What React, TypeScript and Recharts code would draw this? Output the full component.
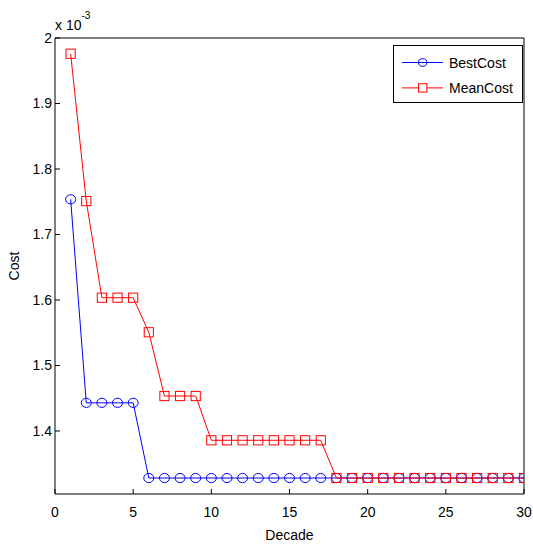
import React from "react"
import { LineChart, Line, XAxis, YAxis, Legend } from "recharts"

// decade index
const decades = [1, 2, 3, 4, 5, 6, 7, 8, 9, 10, 11, 12, 13, 14, 15, 16, 17, 18, 19, 20, 21, 22, 23, 24, 25, 26, 27, 28, 29, 30]

// cost values in units of 10^-3
const bestCost = [
  1.7537, 1.443, 1.443, 1.443, 1.443, 1.3282, 1.3282, 1.3282, 1.3282, 1.3282,
  1.3282, 1.3282, 1.3282, 1.3282, 1.3282, 1.3282, 1.3282, 1.3282, 1.3282, 1.3282,
  1.3282, 1.3282, 1.3282, 1.3282, 1.3282, 1.3282, 1.3282, 1.3282, 1.3282, 1.3282,
]
const meanCost = [
  1.976, 1.751, 1.6035, 1.6035, 1.6035, 1.5507, 1.4534, 1.4534, 1.4534, 1.3858,
  1.3858, 1.3858, 1.3858, 1.3858, 1.3858, 1.3858, 1.3858, 1.3282, 1.3282, 1.3282,
  1.3282, 1.3282, 1.3282, 1.3282, 1.3282, 1.3282, 1.3282, 1.3282, 1.3282, 1.3282,
]

const xTicks = [0, 5, 10, 15, 20, 25, 30]
const yTicks = [1.4, 1.5, 1.6, 1.7, 1.8, 1.9, 2]
const xDomain = [0, 30]
const yDomain = [1.3038, 2.0]

const data = decades.map((d, i) => ({ decade: d, best: bestCost[i], mean: meanCost[i] }))

const FONT = "'Liberation Sans', Arial, sans-serif"
const BLUE = "#0000ff"
const RED = "#ff0000"
const X_MARGIN = 13
const Y_MARGIN = 3
const TICK = 5
// mirrored box axes need a non-zero size to be drawn
const THIN = 0.01

const Circle = ({ cx, cy, stroke, size = 5 }: any) => (
  <ellipse cx={cx} cy={cy} rx={size} ry={size - 0.4} fill="none" stroke={stroke} strokeWidth={1} />
)

const Square = ({ cx, cy, stroke }: any) => (
  <rect x={cx - 4.6} y={cy - 4.6} width={9.2} height={9.2} fill="none" stroke={stroke} strokeWidth={1} />
)

const BottomTick = ({ x, y, payload }: any) => (
  <g>
    <line x1={x} x2={x} y1={y - X_MARGIN} y2={y - X_MARGIN - TICK} stroke="#000" />
    <text x={x} y={y + 10} textAnchor="middle" fontSize={14} fontFamily={FONT} fill="#000">
      {payload.value}
    </text>
  </g>
)

const LeftTick = ({ x, y, payload }: any) => (
  <g>
    <line x1={x + Y_MARGIN} x2={x + Y_MARGIN + TICK} y1={y} y2={y} stroke="#000" />
    <text x={x} y={y} dy="0.355em" textAnchor="end" fontSize={14} fontFamily={FONT} fill="#000">
      {payload.value}
    </text>
  </g>
)

const series = [
  { name: "BestCost", color: BLUE, shape: "circle" },
  { name: "MeanCost", color: RED, shape: "square" },
]

const LegendBox = () => (
  <svg width={130} height={58} style={{ display: "block" }}>
    <rect x={0.5} y={0.5} width={129} height={57} fill="#fff" stroke="#000" />
    {series.map((s, i) => {
      const yc = 17.5 + i * 25.4
      return (
        <g key={s.name}>
          <line x1={9} x2={50} y1={yc} y2={yc} stroke={s.color} />
          {s.shape === "circle" ? (
            <Circle cx={29.7} cy={yc} stroke={s.color} size={4.2} />
          ) : (
            <rect x={25.5} y={yc - 4.2} width={8.4} height={8.4} fill="#fff" stroke={s.color} />
          )}
          <text x={56} y={yc + 5} fontSize={14} fontFamily={FONT} fill="#000">
            {s.name}
          </text>
        </g>
      )
    })}
  </svg>
)

export default function App() {
  return (
    <div style={{ position: "absolute", left: 0, top: 0, background: "#fff" }}>
      <LineChart
        width={533}
        height={544}
        data={data}
        margin={{ top: 38, right: 9, bottom: 0, left: 0 }}
        style={{ fontFamily: FONT }}
      >
        <XAxis
          dataKey="decade"
          type="number"
          domain={xDomain}
          ticks={xTicks}
          allowDataOverflow
          height={50}
          tickSize={0}
          tickMargin={X_MARGIN}
          tickLine={false}
          axisLine={{ stroke: "#000" }}
          tick={<BottomTick />}
          label={(p: any) => (
            <text
              x={p.viewBox.x + p.viewBox.width / 2}
              y={p.viewBox.y + 46}
              textAnchor="middle"
              fontSize={14}
              fontFamily={FONT}
              fill="#000"
            >
              Decade
            </text>
          )}
        />
        <XAxis
          xAxisId="top"
          orientation="top"
          dataKey="decade"
          type="number"
          domain={xDomain}
          ticks={xTicks}
          allowDataOverflow
          height={THIN}
          mirror
          tickSize={TICK}
          tick={false}
          axisLine={{ stroke: "#000" }}
          tickLine={{ stroke: "#000" }}
          label={(p: any) => (
            <text x={p.viewBox.x} y={p.viewBox.y - 8.5} fontSize={14} fontFamily={FONT} fill="#000">
              <tspan>x 10</tspan>
              <tspan fontSize={10} dy={-10.5}>
                -3
              </tspan>
            </text>
          )}
        />
        <YAxis
          type="number"
          domain={yDomain}
          ticks={yTicks}
          allowDataOverflow
          width={55}
          tickSize={0}
          tickMargin={Y_MARGIN}
          tickLine={false}
          axisLine={{ stroke: "#000" }}
          tick={<LeftTick />}
          label={(p: any) => {
            const cx = p.viewBox.x + 18.5
            const cy = p.viewBox.y + p.viewBox.height / 2
            return (
              <text
                x={cx}
                y={cy}
                transform={`rotate(-90 ${cx} ${cy})`}
                textAnchor="middle"
                fontSize={14}
                fontFamily={FONT}
                fill="#000"
              >
                Cost
              </text>
            )
          }}
        />
        <YAxis
          yAxisId="right"
          orientation="right"
          type="number"
          domain={yDomain}
          ticks={yTicks}
          allowDataOverflow
          width={THIN}
          mirror
          tickSize={TICK}
          tick={false}
          axisLine={{ stroke: "#000" }}
          tickLine={{ stroke: "#000" }}
        />
        <Legend
          layout="horizontal"
          verticalAlign="middle"
          align="center"
          wrapperStyle={{ left: 393, top: 45, width: 130, height: 58 }}
          content={() => <LegendBox />}
        />
        <Line
          dataKey="best"
          name="BestCost"
          stroke={BLUE}
          strokeWidth={1}
          isAnimationActive={false}
          activeDot={false}
          dot={(p: any) => <Circle key={`b${p.index}`} cx={p.cx} cy={p.cy} stroke={BLUE} />}
        />
        <Line
          dataKey="mean"
          name="MeanCost"
          stroke={RED}
          strokeWidth={1}
          isAnimationActive={false}
          activeDot={false}
          dot={(p: any) => <Square key={`m${p.index}`} cx={p.cx} cy={p.cy} stroke={RED} />}
        />
      </LineChart>
    </div>
  )
}
